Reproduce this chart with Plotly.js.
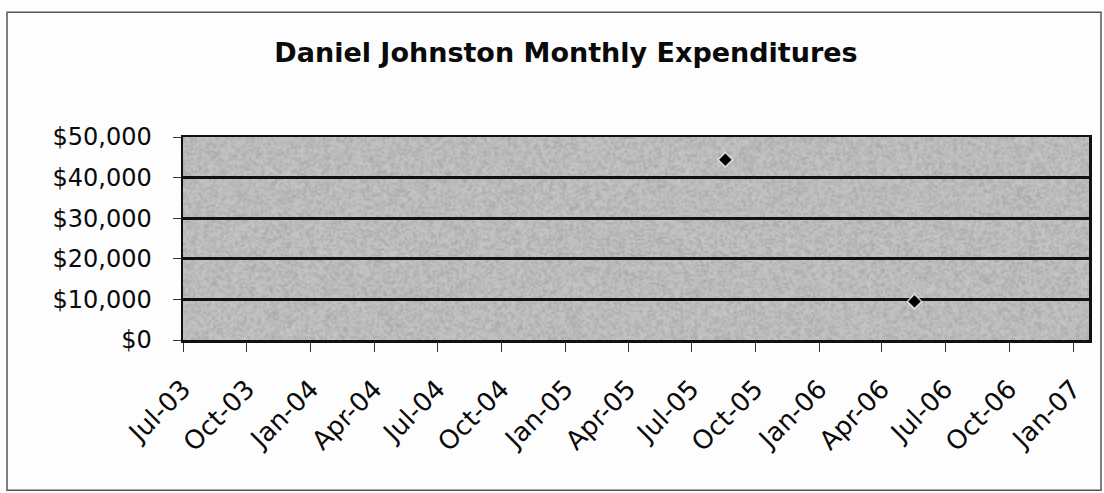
<!DOCTYPE html>
<html>
<head>
<meta charset="utf-8">
<script src="https://cdn.plot.ly/plotly-3.0.1.min.js"></script>
<style>
  html, body { margin: 0; padding: 0; background: #ffffff; }
  #chart { width: 1104px; height: 493px; }
</style>
</head>
<body>
<div id="chart"></div>
<script>
// ---- data ----
const chartTitle = "Daniel Johnston Monthly Expenditures";
const expenseDates = ["2005-08-19", "2006-05-18"];
const expenseValues = [44400, 9500];
const tickDates = ["2003-07-01","2003-10-01","2004-01-01","2004-04-01","2004-07-01","2004-10-01",
                   "2005-01-01","2005-04-01","2005-07-01","2005-10-01","2006-01-01","2006-04-01",
                   "2006-07-01","2006-10-01","2007-01-01"];
const tickLabels = ["Jul-03","Oct-03","Jan-04","Apr-04","Jul-04","Oct-04",
                    "Jan-05","Apr-05","Jul-05","Oct-05","Jan-06","Apr-06",
                    "Jul-06","Oct-06","Jan-07"];
const yValues = [0, 10000, 20000, 30000, 40000, 50000];

// ---- deterministic speckle texture for the plot area (decoration only) ----
function makeTexture(w, h) {
  const c = document.createElement('canvas');
  c.width = w; c.height = h;
  const ctx = c.getContext('2d');
  const img = ctx.createImageData(w, h);
  for (let y = 0; y < h; y++) {
    for (let x = 0; x < w; x++) {
      let n = (x * 374761393 + y * 668265263) | 0;
      n = (n ^ (n >>> 13)) * 1274126177 | 0;
      n = n ^ (n >>> 16);
      const v = (n & 255);
      const i = (y * w + x) * 4;
      const g = v > 128 ? 255 : 60;
      img.data[i] = g; img.data[i+1] = g; img.data[i+2] = g;
      img.data[i+3] = Math.floor(Math.abs(v - 128) * 0.3);
    }
  }
  ctx.putImageData(img, 0, 0);
  return c.toDataURL('image/png');
}

const fontFamily = "DejaVu Sans, Arial, sans-serif";

const trace = {
  type: 'scatter',
  mode: 'markers',
  x: expenseDates,
  y: expenseValues,
  marker: { symbol: 'diamond', size: 11, color: '#000000',
            line: { color: 'rgba(255,255,255,0.75)', width: 1.5 } },
  hoverinfo: 'x+y'
};

// plot area geometry (px)
const L = 183, R = 15, T = 137, B = 152.5;
const pw = 1104 - L - R, ph = 493 - T - B;
const px = v => (v - L) / pw;
const py = v => (493 - B - v) / ph;

const layout = {
  width: 1104, height: 493,
  margin: { l: L, r: R, t: T, b: B, pad: 0 },
  paper_bgcolor: '#fdfdfd',
  plot_bgcolor: '#bdbdbd',
  showlegend: false,
  title: {
    text: chartTitle,
    font: { family: fontFamily, size: 27, color: '#0a0a0a', weight: 'bold' },
    xref: 'container', yref: 'container',
    x: 566 / 1104, xanchor: 'center',
    y: 1 - 53 / 493, yanchor: 'middle'
  },
  xaxis: {
    type: 'date',
    range: ['2003-07-01', '2007-01-24'],
    tickmode: 'array',
    tickvals: tickDates,
    ticktext: tickLabels,
    tickangle: -45,
    ticks: 'outside', ticklen: 9, tickwidth: 1, tickcolor: '#333333',
    ticklabelstandoff: 12,
    showgrid: false, zeroline: false,
    showline: true, linecolor: '#111111', linewidth: 2.5, mirror: true,
    tickfont: { family: fontFamily, size: 26, color: '#0a0a0a' },
    fixedrange: true
  },
  yaxis: {
    range: [0, 50000],
    tickmode: 'array',
    tickvals: yValues,
    tickformat: '$,.0f',
    ticks: 'outside', ticklen: 8, tickwidth: 1, tickcolor: '#333333',
    ticklabelstandoff: 16,
    showgrid: true, gridcolor: '#111111', gridwidth: 2.8,
    zeroline: false,
    showline: true, linecolor: '#111111', linewidth: 2.5, mirror: true,
    tickfont: { family: fontFamily, size: 24, color: '#0a0a0a' },
    fixedrange: true
  },
  images: [{
    source: makeTexture(453, 102),
    xref: 'paper', yref: 'paper', x: 0, y: 1, sizex: 1, sizey: 1,
    sizing: 'stretch', xanchor: 'left', yanchor: 'top', layer: 'below', opacity: 1
  }],
  shapes: [{
    type: 'rect', xref: 'paper', yref: 'paper',
    x0: px(7), x1: px(1101), y0: py(491), y1: py(12),
    line: { color: '#555555', width: 1.5 }, fillcolor: 'rgba(0,0,0,0)', layer: 'below'
  }]
};

Plotly.newPlot('chart', [trace], layout, { displayModeBar: false, staticPlot: true });
</script>
</body>
</html>
